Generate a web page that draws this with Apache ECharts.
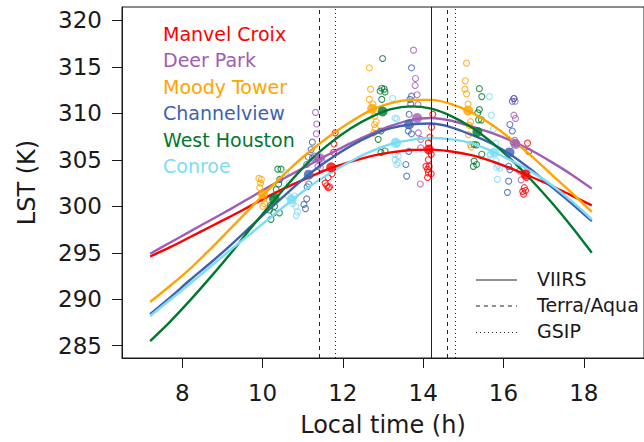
<!DOCTYPE html>
<html>
<head>
<meta charset="utf-8">
<script src="https://cdn.jsdelivr.net/npm/echarts@6/dist/echarts.min.js"></script>
<style>
  html, body { margin: 0; padding: 0; background: #fff; }
  #chart { width: 644px; height: 442px; }
</style>
</head>
<body>
<div id="chart"></div>
<script>
// values
const sites = ['Manvel Croix', 'Deer Park', 'Moody Tower', 'Channelview', 'West Houston', 'Conroe'];
const xTicks = [8, 10, 12, 14, 16, 18];
const yTicks = [285, 290, 295, 300, 305, 310, 315, 320];

// fitted diurnal curves, sampled every half hour from 7.2 h to 18.2 h
const curveHours = [7.2, 7.7, 8.2, 8.7, 9.2, 9.7, 10.2, 10.7, 11.2, 11.7, 12.2, 12.7,
  13.2, 13.7, 14.2, 14.7, 15.2, 15.7, 16.2, 16.7, 17.2, 17.7, 18.2];
const fitManvel = [294.6, 295.6, 296.7, 297.8, 298.9, 300.05, 301.2, 302.25, 303.2, 304.1, 304.8, 305.4,
  305.8, 306.05, 306.1, 305.9, 305.5, 304.85, 304.05, 303.15, 302.2, 301.15, 300.1];
const fitDeerPark = [294.9, 296.1, 297.3, 298.5, 299.7, 300.95, 302.2, 303.4, 304.55, 305.7, 306.8, 307.8,
  308.65, 309.3, 309.5, 309.2, 308.6, 307.9, 307.05, 306.0, 304.75, 303.4, 301.9];
const fitMoody = [289.7, 291.45, 293.3, 295.4, 297.6, 299.8, 302.0, 304.1, 306.0, 307.65, 309.1, 310.35,
  311.1, 311.45, 311.45, 311.0, 310.1, 308.8, 307.2, 305.4, 303.4, 301.45, 299.4];
const fitChannelview = [288.4, 290.2, 292.1, 293.9, 295.8, 297.8, 299.8, 301.75, 303.6, 305.15, 306.5, 307.6,
  308.4, 308.8, 308.9, 308.5, 307.7, 306.75, 305.5, 303.9, 302.1, 300.3, 298.4];
const fitWestHouston = [285.5, 287.6, 289.9, 292.35, 294.9, 297.6, 300.2, 302.7, 305.0, 306.85, 308.4, 309.6,
  310.45, 310.75, 310.5, 309.7, 308.5, 306.9, 305.0, 302.8, 300.4, 297.8, 295.0];
const fitConroe = [288.2, 289.95, 291.7, 293.5, 295.3, 297.05, 298.8, 300.55, 302.2, 303.6, 304.85, 305.9,
  306.7, 307.15, 307.35, 307.2, 306.8, 305.95, 304.9, 303.7, 302.3, 300.55, 298.6];

// individual observations [hour, K]
const obsManvel = [
  [11.81, 307.9], [11.78, 306.7], [11.77, 305.8], [11.73, 303.5], [11.63, 303.1], [11.56, 302.5],
  [11.60, 302.2], [11.64, 302.0], [11.67, 302.1],
  [14.24, 309.9], [14.21, 308.5], [14.17, 307.45], [14.13, 306.8], [14.20, 305.6], [14.13, 305.0],
  [14.07, 304.3], [14.15, 304.3], [14.11, 303.97], [14.13, 303.6], [14.20, 303.5], [14.11, 303.1],
  [16.60, 306.8], [16.63, 305.9], [16.55, 303.6], [16.57, 303.1], [16.52, 302.0], [16.55, 301.7],
  [16.50, 301.3], [16.48, 301.6]
];
const obsDeerPark = [
  [11.32, 310.1], [11.35, 308.85], [11.34, 307.8], [11.30, 305.4], [11.40, 305.0], [11.38, 304.3],
  [11.44, 304.15], [11.48, 304.9],
  [13.76, 316.8], [13.81, 313.75], [13.80, 313.0], [13.85, 312.0], [13.87, 310.95], [13.88, 307.9],
  [13.94, 307.2], [13.94, 306.3], [13.93, 302.4],
  [16.26, 311.6], [16.29, 311.3], [16.26, 309.8], [16.30, 309.45], [16.28, 307.1], [16.31, 306.8],
  [16.40, 303.8], [16.44, 302.85]
];
const obsMoody = [
  [9.91, 303.0], [9.95, 302.5], [9.93, 302.0], [9.99, 301.4], [10.03, 300.8], [10.05, 300.3],
  [10.01, 300.0], [9.97, 302.9],
  [12.66, 314.9], [12.69, 312.6], [12.66, 311.5], [12.75, 311.0], [12.79, 309.7], [12.83, 309.1],
  [12.79, 308.8], [12.77, 307.9], [12.81, 308.4],
  [15.08, 315.4], [15.05, 313.5], [15.04, 312.6], [15.08, 312.1], [15.12, 311.0], [15.18, 309.1],
  [15.15, 308.7], [15.13, 307.7], [15.18, 306.65], [15.20, 306.4]
];
const obsChannelview = [
  [11.24, 306.9], [11.21, 306.1], [11.14, 305.3], [11.24, 305.2], [11.10, 304.5], [11.15, 302.4],
  [11.11, 302.1], [11.10, 300.8], [11.03, 300.2], [11.07, 299.75],
  [13.71, 314.9], [13.71, 311.85], [13.67, 311.5], [13.69, 311.0], [13.65, 309.9], [13.63, 308.1],
  [13.71, 307.8], [13.64, 305.9], [13.57, 304.5], [13.59, 303.25],
  [16.22, 311.3], [16.26, 311.6], [16.16, 308.8], [16.22, 308.1], [16.24, 306.9], [16.13, 304.3],
  [16.16, 303.95], [16.13, 302.7], [16.10, 301.5]
];
const obsWestHouston = [
  [10.38, 304.0], [10.46, 304.0], [10.43, 302.9], [10.40, 302.4], [10.34, 301.8], [10.25, 300.75],
  [10.20, 300.1], [10.30, 300.0], [10.17, 299.6], [10.28, 299.3], [10.42, 299.3], [10.21, 298.6],
  [12.99, 315.9], [12.97, 312.7], [13.03, 312.6], [12.93, 312.4], [13.05, 312.3], [12.97, 311.5],
  [12.95, 308.1], [12.88, 307.2], [12.95, 305.8], [13.05, 305.95],
  [15.40, 312.65], [15.46, 311.8], [15.40, 310.4], [15.36, 310.05], [15.38, 309.3], [15.45, 309.3],
  [15.27, 306.65], [15.33, 306.6], [15.46, 305.6], [15.27, 304.86], [15.33, 304.5], [15.25, 304.3]
];
const obsConroe = [
  [10.58, 303.6], [10.66, 302.5], [10.64, 301.1], [10.72, 300.8], [10.80, 301.1], [10.75, 300.3],
  [10.83, 300.0], [10.87, 299.4], [10.84, 299.0],
  [13.24, 311.6], [13.30, 309.5], [13.34, 309.4], [13.30, 307.0], [13.36, 306.8], [13.30, 305.6],
  [13.38, 305.4], [13.30, 305.0], [13.34, 304.5], [13.38, 304.7],
  [15.65, 311.8], [15.70, 309.8], [15.75, 308.3], [15.81, 306.8], [15.68, 305.6], [15.66, 305.5],
  [15.81, 304.9], [15.87, 304.4], [15.83, 304.2], [15.91, 304.1], [15.85, 302.9]
];

// means at the three overpass groups
const meanManvel = [[11.71, 304.2], [14.14, 306.1], [16.55, 303.4]];
const meanDeerPark = [[11.42, 305.2], [13.85, 309.5], [16.30, 306.7]];
const meanMoody = [[10.01, 301.3], [12.73, 310.5], [15.12, 310.3]];
const meanChannelview = [[11.15, 303.4], [13.65, 308.8], [16.15, 305.8]];
const meanWestHouston = [[10.30, 300.9], [12.99, 310.2], [15.35, 308.0]];
const meanConroe = [[10.72, 300.75], [13.32, 306.8], [15.77, 305.8]];

// satellite overpass times (h)
const viirsTimes = [14.2];
const terraAquaTimes = [11.4, 14.6];
const gsipTimes = [11.8, 14.8];

const fits = [fitManvel, fitDeerPark, fitMoody, fitChannelview, fitWestHouston, fitConroe];
const obs = [obsManvel, obsDeerPark, obsMoody, obsChannelview, obsWestHouston, obsConroe];
const means = [meanManvel, meanDeerPark, meanMoody, meanChannelview, meanWestHouston, meanConroe];
const colors = ['#ff0000', '#a15cb4', '#ffa500', '#3e62b0', '#00782e', '#7ddcf4'];

const font = 'DejaVu Sans';
const ink = '#1a1a1a';

const series = [];
// open circles
sites.forEach((s, i) => {
  series.push({
    name: s + ' obs',
    type: 'scatter',
    data: obs[i],
    symbol: 'circle',
    symbolSize: 6,
    itemStyle: { color: 'transparent', borderColor: colors[i], borderWidth: 1.1 },
    z: 2,
    silent: true,
  });
});
// fitted curves
sites.forEach((s, i) => {
  series.push({
    name: s,
    type: 'line',
    data: curveHours.map((h, k) => [h, fits[i][k]]),
    smooth: 0.3,
    showSymbol: false,
    lineStyle: { color: colors[i], width: 2.4 },
    z: 3,
    silent: true,
  });
});
// mean dots
sites.forEach((s, i) => {
  series.push({
    name: s + ' mean',
    type: 'scatter',
    data: means[i],
    symbol: 'circle',
    symbolSize: 10,
    itemStyle: { color: colors[i] },
    z: 4,
    silent: true,
  });
});
// overpass lines
const vline = (t, type) => ({ xAxis: t, lineStyle: { type, color: '#222', width: 1 } });
series.push({
  type: 'line',
  data: [],
  silent: true,
  markLine: {
    silent: true,
    symbol: ['none', 'none'],
    label: { show: false },
    animation: false,
    data: [
      ...viirsTimes.map(t => vline(t, 'solid')),
      ...terraAquaTimes.map(t => vline(t, [4, 4])),
      ...gsipTimes.map(t => vline(t, [1, 3])),
    ],
  },
  z: 1,
});

// legends drawn as graphic text
const legendY = [35, 61.5, 88, 114.5, 141, 167.5];
const graphic = sites.map((s, i) => ({
  type: 'text',
  left: 163,
  top: legendY[i] - 11,
  style: { text: s, fill: colors[i], font: '19px "' + font + '"' },
}));
const lineKeys = [
  { label: 'VIIRS', dash: null, y: 280 },
  { label: 'Terra/Aqua', dash: [4, 4], y: 306 },
  { label: 'GSIP', dash: [1, 3], y: 332.5 },
];
lineKeys.forEach(k => {
  graphic.push({
    type: 'line',
    shape: { x1: 476, y1: k.y, x2: 517, y2: k.y },
    style: { stroke: '#222', lineWidth: 1, lineDash: k.dash },
  });
  graphic.push({
    type: 'text',
    left: 537,
    top: k.y - 11,
    style: { text: k.label, fill: ink, font: '19px "' + font + '"' },
  });
});

const chart = echarts.init(document.getElementById('chart'), null, { renderer: 'svg' });
chart.setOption({
  animation: false,
  backgroundColor: '#fff',
  grid: {
    left: 122, top: 7, width: 530, height: 352,
    show: true, borderColor: ink, borderWidth: 1, backgroundColor: 'transparent',
  },
  xAxis: {
    type: 'value',
    min: 6.5,
    max: 19.5,
    name: 'Local time (h)',
    nameLocation: 'middle',
    nameGap: 55,
    nameTextStyle: { fontSize: 24, fontFamily: font, color: ink },
    axisLine: { show: true, lineStyle: { color: ink } },
    axisTick: { show: true, length: 10, customValues: xTicks, lineStyle: { color: ink } },
    axisLabel: { customValues: xTicks, fontSize: 23, fontFamily: font, color: ink, margin: 23 },
    splitLine: { show: false },
  },
  yAxis: {
    type: 'value',
    min: 283.68,
    max: 321.44,
    name: 'LST (K)',
    nameLocation: 'middle',
    nameGap: 83,
    nameTextStyle: { fontSize: 24, fontFamily: font, color: ink },
    axisLine: { show: true, lineStyle: { color: ink } },
    axisTick: { show: true, length: 10, customValues: yTicks, lineStyle: { color: ink } },
    axisLabel: { customValues: yTicks, fontSize: 23, fontFamily: font, color: ink, margin: 20 },
    splitLine: { show: false },
  },
  graphic,
  series,
});
</script>
</body>
</html>
